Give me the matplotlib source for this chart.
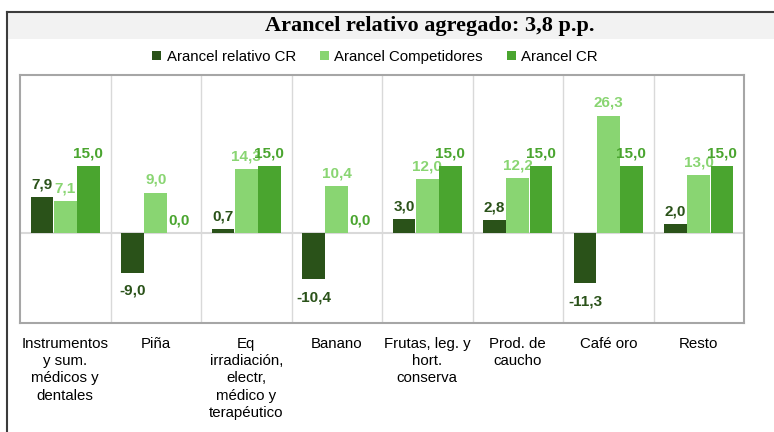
import matplotlib
matplotlib.use("Agg")
import matplotlib.pyplot as plt
import numpy as np
from matplotlib.lines import Line2D
from matplotlib.patches import Rectangle

categories = [
	"Instrumentos\ny sum.\nmédicos y\ndentales",
	"Piña",
	"Eq\nirradiación,\nelectr,\nmédico y\nterapéutico",
	"Banano",
	"Frutas, leg. y\nhort.\nconserva",
	"Prod. de\ncaucho",
	"Café oro",
	"Resto",
]
relativo_cr = [7.9, -9.0, 0.7, -10.4, 3.0, 2.8, -11.3, 2.0]
competidores = [7.1, 9.0, 14.3, 10.4, 12.0, 12.2, 26.3, 13.0]
arancel_cr = [15.0, 0.0, 15.0, 0.0, 15.0, 15.0, 15.0, 15.0]

series = [
	("Arancel relativo CR", relativo_cr, "#2a5219"),
	("Arancel Competidores", competidores, "#89d572"),
	("Arancel CR", arancel_cr, "#4aa52f"),
]

sans = "Liberation Sans"
W, H = 774, 432

fig = plt.figure(figsize=(W / 100, H / 100), dpi=100)
fig.patch.set_facecolor("white")

# title band and outer frame
fig.patches.append(Rectangle((7 / W, 1 - 39 / H), 1, 27 / H, transform=fig.transFigure,
	facecolor="#f2f2f2", edgecolor="none", zorder=0))
fig.lines.append(Line2D([7 / W, 1], [1 - 12 / H, 1 - 12 / H], transform=fig.transFigure, color="#3c3c3c", lw=1.5))
fig.lines.append(Line2D([7 / W, 7 / W], [0, 1 - 12 / H], transform=fig.transFigure, color="#3c3c3c", lw=1.5))
fig.text(430 / W, 1 - 26 / H, "Arancel relativo agregado: 3,8 p.p.", ha="center", va="center",
	family="Liberation Serif", fontweight="bold", fontsize=16)

ax = fig.add_axes([20 / W, 1 - 323 / H, (744 - 20) / W, (323 - 75) / H])
x = np.arange(len(categories))
width = 0.25
step = 0.255

handles = []
for i, (name, values, color) in enumerate(series):
	offset = (i - 1) * step
	bars = ax.bar(x + offset, values, width, color=color, label=name, zorder=3)
	handles.append(bars)
	for xi, v in zip(x, values):
		text = f"{v:.1f}".replace(".", ",")
		if v < 0:
			ax.annotate(text, (xi + offset, v), xytext=(0, -8), textcoords="offset points",
				ha="center", va="top", color=color, family=sans, fontweight="bold", fontsize=11)
		else:
			ax.annotate(text, (xi + offset, v), xytext=(0, 4), textcoords="offset points",
				ha="center", va="bottom", color=color, family=sans, fontweight="bold", fontsize=11)

ax.set_xlim(-0.5, len(categories) - 0.5)
ax.set_ylim(-20.3, 35.4)
ax.axhline(0, color="#d9d9d9", lw=1.5, zorder=2)
for b in np.arange(0.5, len(categories) - 0.5):
	ax.axvline(b, color="#d9d9d9", lw=1, zorder=1)

ax.set_xticks(x)
ax.set_xticklabels(categories, family=sans, fontsize=10.8, linespacing=1.3, va="top")
ax.tick_params(axis="x", length=0, pad=10)
ax.set_yticks([])
for spine in ax.spines.values():
	spine.set_color("#a6a6a6")
	spine.set_linewidth(1.5)

fig.legend(handles=handles, loc="center", bbox_to_anchor=(375 / W, 1 - 57 / H), ncol=3, frameon=False,
	prop={"family": sans, "size": 10.8}, handlelength=0.6, handleheight=0.6, handletextpad=0.35,
	columnspacing=1.6, borderpad=0)

fig.savefig("out.png", dpi=100)
